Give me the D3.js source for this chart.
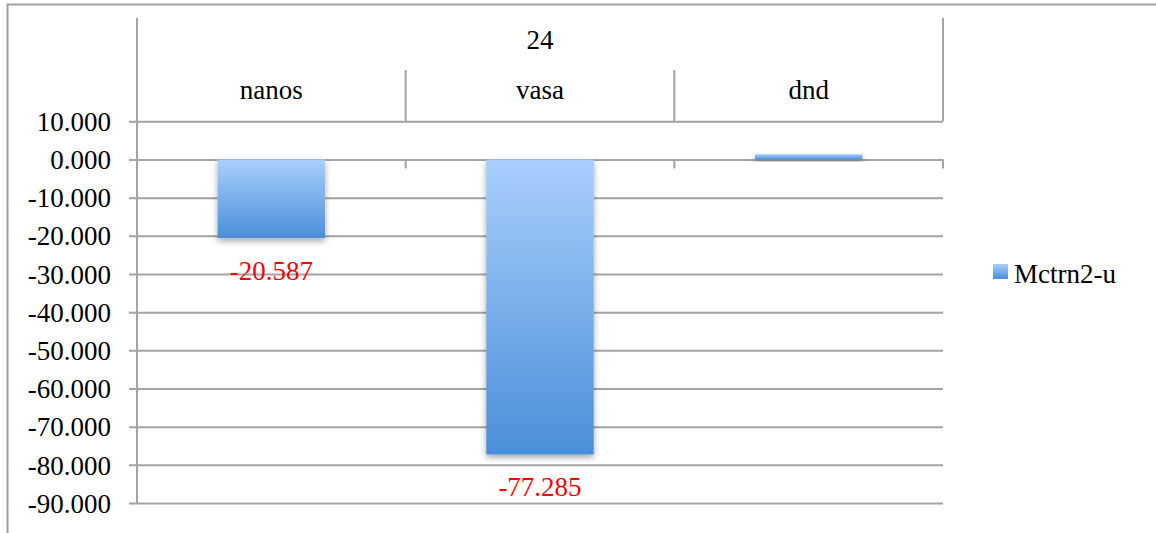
<!DOCTYPE html>
<html>
<head>
<meta charset="utf-8">
<script src="https://cdn.jsdelivr.net/npm/d3@7"></script>
<style>
  html, body { margin: 0; padding: 0; background: #fff; }
  svg { display: block; }
  text { font-family: "Liberation Serif", serif; }
</style>
</head>
<body>
<svg id="chart" width="1156" height="533"></svg>
<script>
const groupLabel = ["24"];
const categories = ["nanos", "vasa", "dnd"];
const values = [-20.587, -77.285, 1.35];
const labelShown = [true, true, false];
const seriesName = ["Mctrn2-u"];
const yTicks = [10, 0, -10, -20, -30, -40, -50, -60, -70, -80, -90];

const fmt = d3.formatLocale({decimal: ".", thousands: ",", grouping: [3], currency: ["", ""], minus: "-"}).format(".3f");

const svg = d3.select("#chart");
const gridColor = "#a3a3a3";
const fontSize = 27;

const y = d3.scaleLinear().domain([-90, 10]).range([503, 121.3]);
const x = d3.scaleBand().domain(categories).range([137, 943]).paddingInner(0).paddingOuter(0);
const barW = x.bandwidth() * 0.4;

const defs = svg.append("defs");
const grad = defs.append("linearGradient").attr("id", "barGrad")
  .attr("x1", 0).attr("y1", 0).attr("x2", 0).attr("y2", 1);
grad.append("stop").attr("offset", "0%").attr("stop-color", "#a9cffd");
grad.append("stop").attr("offset", "100%").attr("stop-color", "#4a8fd8");
const f = defs.append("filter").attr("id", "shadow")
  .attr("x", "-20%").attr("y", "-20%").attr("width", "140%").attr("height", "160%");
f.append("feDropShadow").attr("dx", 0).attr("dy", 3).attr("stdDeviation", 3)
  .attr("flood-color", "#000").attr("flood-opacity", 0.35);

// outer frame (top and left visible)
svg.append("path").attr("d", "M7.5,533 V4.5 H1156")
  .attr("fill", "none").attr("stroke", "#a0a0a0").attr("stroke-width", 2);

// y gridlines + axis
const yAxis = d3.axisLeft(y).tickValues(yTicks).tickFormat(fmt)
  .tickSize(-(943 - 137)).tickSizeOuter(0).tickPadding(26);
const gy = svg.append("g").attr("transform", "translate(137,0)").call(yAxis);
gy.select(".domain").remove();
gy.selectAll(".tick line").attr("stroke", gridColor).attr("stroke-width", 2).attr("x1", -8);
gy.selectAll(".tick text").attr("font-family", "Liberation Serif").attr("font-size", fontSize)
  .attr("fill", "#000").attr("dy", "0.34em");

// axis line
svg.append("line").attr("x1", 137).attr("x2", 137).attr("y1", 18).attr("y2", y(-90))
  .attr("stroke", gridColor).attr("stroke-width", 2);

// category dividers in header
const bounds = categories.map(c => x(c)).slice(1).concat([x.range()[1]]);
bounds.forEach((bx, i) => {
  const top = (i === bounds.length - 1) ? 18 : 70;
  svg.append("line").attr("x1", bx).attr("x2", bx).attr("y1", top).attr("y2", y(10))
    .attr("stroke", gridColor).attr("stroke-width", 2);
  svg.append("line").attr("x1", bx).attr("x2", bx).attr("y1", y(0)).attr("y2", y(0) + 9)
    .attr("stroke", gridColor).attr("stroke-width", 2);
});

// header labels
svg.append("text").attr("x", (x.range()[0] + x.range()[1]) / 2).attr("y", 49)
  .attr("text-anchor", "middle").attr("font-size", fontSize).text(groupLabel[0]);
svg.selectAll(".catLabel").data(categories).enter().append("text")
  .attr("x", d => x(d) + x.bandwidth() / 2).attr("y", 99)
  .attr("text-anchor", "middle").attr("font-size", fontSize).text(d => d);

// bars
svg.selectAll(".bar").data(values).enter().append("rect")
  .attr("x", (d, i) => x(categories[i]) + (x.bandwidth() - barW) / 2)
  .attr("y", d => y(Math.max(0, d)))
  .attr("width", barW)
  .attr("height", d => Math.abs(y(d) - y(0)))
  .attr("fill", "url(#barGrad)")
  .attr("filter", "url(#shadow)");

// data labels
const labelled = values.map((v, i) => ({v, c: categories[i]})).filter((d, i) => labelShown[i]);
svg.selectAll(".dl").data(labelled).enter().append("text")
  .attr("x", d => x(d.c) + x.bandwidth() / 2)
  .attr("y", d => y(d.v) + 42)
  .attr("text-anchor", "middle").attr("font-size", fontSize).attr("fill", "#ff0000")
  .text(d => fmt(d.v));

// legend
const lg = svg.append("g").attr("transform", "translate(993,264)");
lg.append("rect").attr("width", 15).attr("height", 15).attr("fill", "url(#barGrad)");
lg.append("text").attr("x", 21).attr("y", 19).attr("font-size", fontSize).text(seriesName[0]);
</script>
</body>
</html>
